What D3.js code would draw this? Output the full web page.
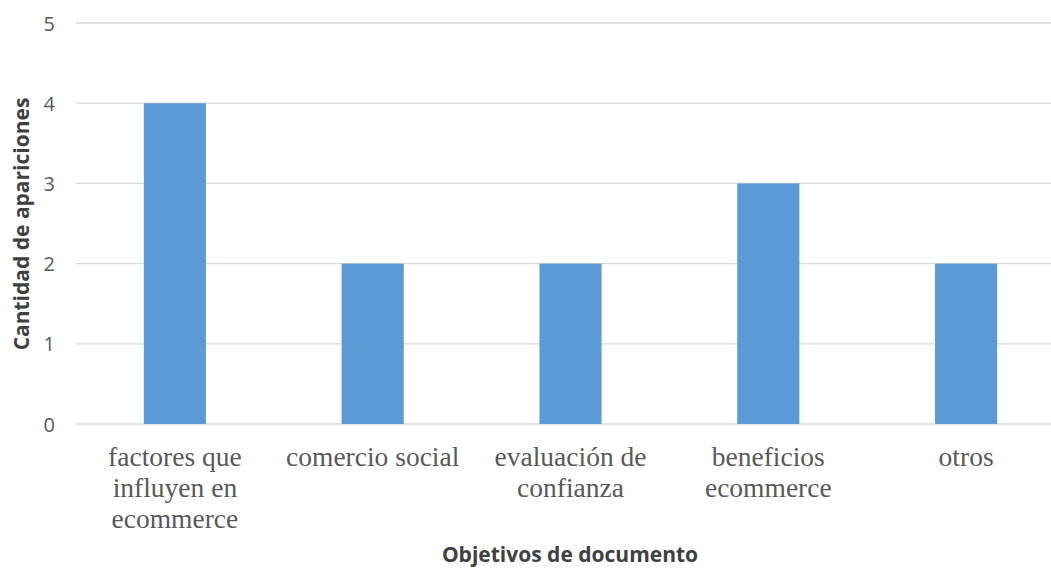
<!DOCTYPE html>
<html>
<head>
<meta charset="utf-8">
<script src="https://cdn.jsdelivr.net/npm/d3@7"></script>
<style>
  html, body { margin: 0; padding: 0; background: #fff; }
  svg { display: block; }
</style>
</head>
<body>
<svg id="chart" width="1051" height="569"></svg>
<script>
// Category labels (split into lines as they wrap under each bar)
const categories = [
  ["factores que", "influyen en", "ecommerce"],
  ["comercio social"],
  ["evaluación de", "confianza"],
  ["beneficios", "ecommerce"],
  ["otros"]
];
const values = [4, 2, 2, 3, 2];
const yTicks = [0, 1, 2, 3, 4, 5];
const yTitle = "Cantidad de apariciones";
const xTitle = "Objetivos de documento";

const svg = d3.select("#chart");
const plot = { left: 76, right: 1065, top: 23, bottom: 424 };

const keys = categories.map(c => c.join(" "));
const x = d3.scaleBand()
  .domain(keys)
  .range([plot.left, plot.right])
  .paddingInner(0.686)
  .paddingOuter(0.343);

const y = d3.scaleLinear()
  .domain([0, 5])
  .range([plot.bottom, plot.top]);

// Horizontal gridlines
svg.append("g")
  .selectAll("line")
  .data(yTicks)
  .join("line")
  .attr("x1", plot.left)
  .attr("x2", plot.right)
  .attr("y1", d => y(d))
  .attr("y2", d => y(d))
  .attr("stroke", "#d9d9d9")
  .attr("stroke-width", 1.3);

// Bars
svg.append("g")
  .selectAll("rect")
  .data(values)
  .join("rect")
  .attr("x", (d, i) => x(keys[i]))
  .attr("width", x.bandwidth())
  .attr("y", d => y(d))
  .attr("height", d => y(0) - y(d))
  .attr("fill", "#5b9bd5");

// Y axis tick labels
const yAxis = d3.axisLeft(y).tickValues(yTicks).tickSize(0).tickPadding(0).tickFormat(d3.format("d"));
const yg = svg.append("g")
  .attr("transform", `translate(${plot.left - 21},0)`)
  .call(yAxis);
yg.select(".domain").remove();
yg.selectAll("text")
  .attr("font-family", "'Open Sans', 'Liberation Sans', sans-serif")
  .attr("font-size", 20)
  .attr("fill", "#595959")
  .attr("dy", "0.35em");

// X category labels, wrapped on several lines
const xg = svg.append("g");
categories.forEach((lines, i) => {
  const cx = x(keys[i]) + x.bandwidth() / 2;
  const t = xg.append("text")
    .attr("text-anchor", "middle")
    .attr("font-family", "'Liberation Serif', 'Times New Roman', serif")
    .attr("font-size", 27.5)
    .attr("fill", "#595959");
  lines.forEach((ln, j) => {
    t.append("tspan")
      .attr("x", cx)
      .attr("y", 466 + j * 31)
      .text(ln);
  });
});

// Axis titles
svg.append("text")
  .attr("transform", `translate(29,224) rotate(-90)`)
  .attr("text-anchor", "middle")
  .attr("font-family", "'Open Sans', 'Liberation Sans', sans-serif")
  .attr("font-weight", "bold")
  .attr("font-size", 21)
  .attr("fill", "#404040")
  .text(yTitle);

svg.append("text")
  .attr("x", 570)
  .attr("y", 562)
  .attr("text-anchor", "middle")
  .attr("font-family", "'Open Sans', 'Liberation Sans', sans-serif")
  .attr("font-weight", "bold")
  .attr("font-size", 21)
  .attr("fill", "#404040")
  .text(xTitle);
</script>
</body>
</html>
